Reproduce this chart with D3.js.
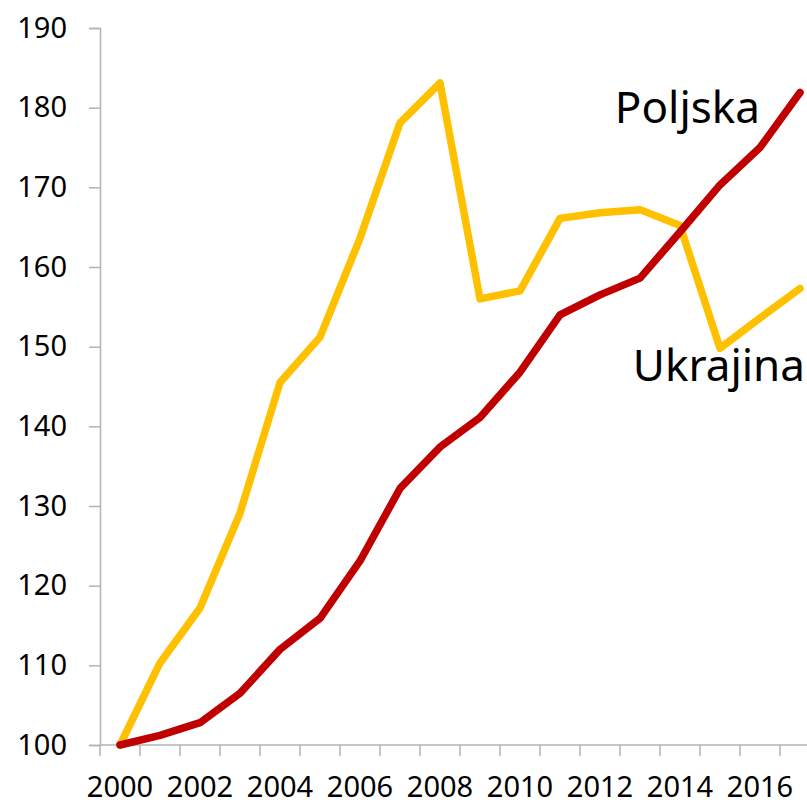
<!DOCTYPE html>
<html><head><meta charset="utf-8">
<script src="https://cdn.jsdelivr.net/npm/d3@7"></script>
<style>body{margin:0;background:#fff}svg{display:block}text{font-family:"Noto Sans",sans-serif}</style>
</head><body><svg id="c" width="807" height="806"></svg>
<script>
const years = [2000,2001,2002,2003,2004,2005,2006,2007,2008,2009,2010,2011,2012,2013,2014,2015,2016,2017];
const ukrajina = [100,110.3,117.2,129.1,145.5,151.2,163.6,178.1,183.1,156.0,157.0,166.1,166.8,167.2,165.2,149.8,153.6,157.3];
const poljska = [100,101.2,102.8,106.5,112.0,115.9,123.1,132.2,137.4,141.1,146.8,154.0,156.5,158.6,164.4,170.3,175.0,181.9];
const yTicks = [100,110,120,130,140,150,160,170,180,190];
const xLabels = [2000,2002,2004,2006,2008,2010,2012,2014,2016];

const svg = d3.select("#c");
const x = d3.scaleBand().domain(years).range([100, 820]);
const y = d3.scaleLinear().domain([100,190]).range([745, 28]);
const axisColor = "#b3b3b3";

// y axis
const ya = svg.append("g").attr("transform","translate(100,0)")
  .call(d3.axisLeft(y).tickValues(yTicks).tickSize(11).tickPadding(22).tickFormat(d3.format("d")));
ya.select(".domain").attr("stroke",axisColor).attr("stroke-width",1.5);
ya.selectAll(".tick line").attr("stroke",axisColor).attr("stroke-width",1.5);
ya.selectAll("text").attr("font-size",29).attr("fill","#000").attr("font-family","Noto Sans");

// x axis
const xa = svg.append("g").attr("transform","translate(0,745)");
xa.append("line").attr("x1",100).attr("x2",807).attr("y1",0).attr("y2",0)
  .attr("stroke",axisColor).attr("stroke-width",1.5);
xa.selectAll("line.t").data(years).join("line").attr("class","t")
  .attr("x1",d=>x(d)).attr("x2",d=>x(d)).attr("y1",0).attr("y2",11)
  .attr("stroke",axisColor).attr("stroke-width",1.5);
xa.selectAll("text").data(xLabels).join("text")
  .attr("x",d=>x(d)+x.bandwidth()/2).attr("y",52)
  .attr("text-anchor","middle").attr("font-size",29).attr("fill","#000").text(d=>d);

const line = d3.line().x((d,i)=>x(years[i])+x.bandwidth()/2).y(d=>y(d));
svg.append("path").datum(ukrajina).attr("d",line).attr("fill","none")
  .attr("stroke","#FFC000").attr("stroke-width",7.5).attr("stroke-linejoin","round").attr("stroke-linecap","round");
svg.append("path").datum(poljska).attr("d",line).attr("fill","none")
  .attr("stroke","#C00000").attr("stroke-width",7.5).attr("stroke-linejoin","round").attr("stroke-linecap","round");

svg.append("text").attr("x",760).attr("y",123).attr("text-anchor","end")
  .attr("font-size",44).attr("fill","#000").text("Poljska");
svg.append("text").attr("x",805).attr("y",381).attr("text-anchor","end")
  .attr("font-size",44).attr("fill","#000").text("Ukrajina");
</script></body></html>
